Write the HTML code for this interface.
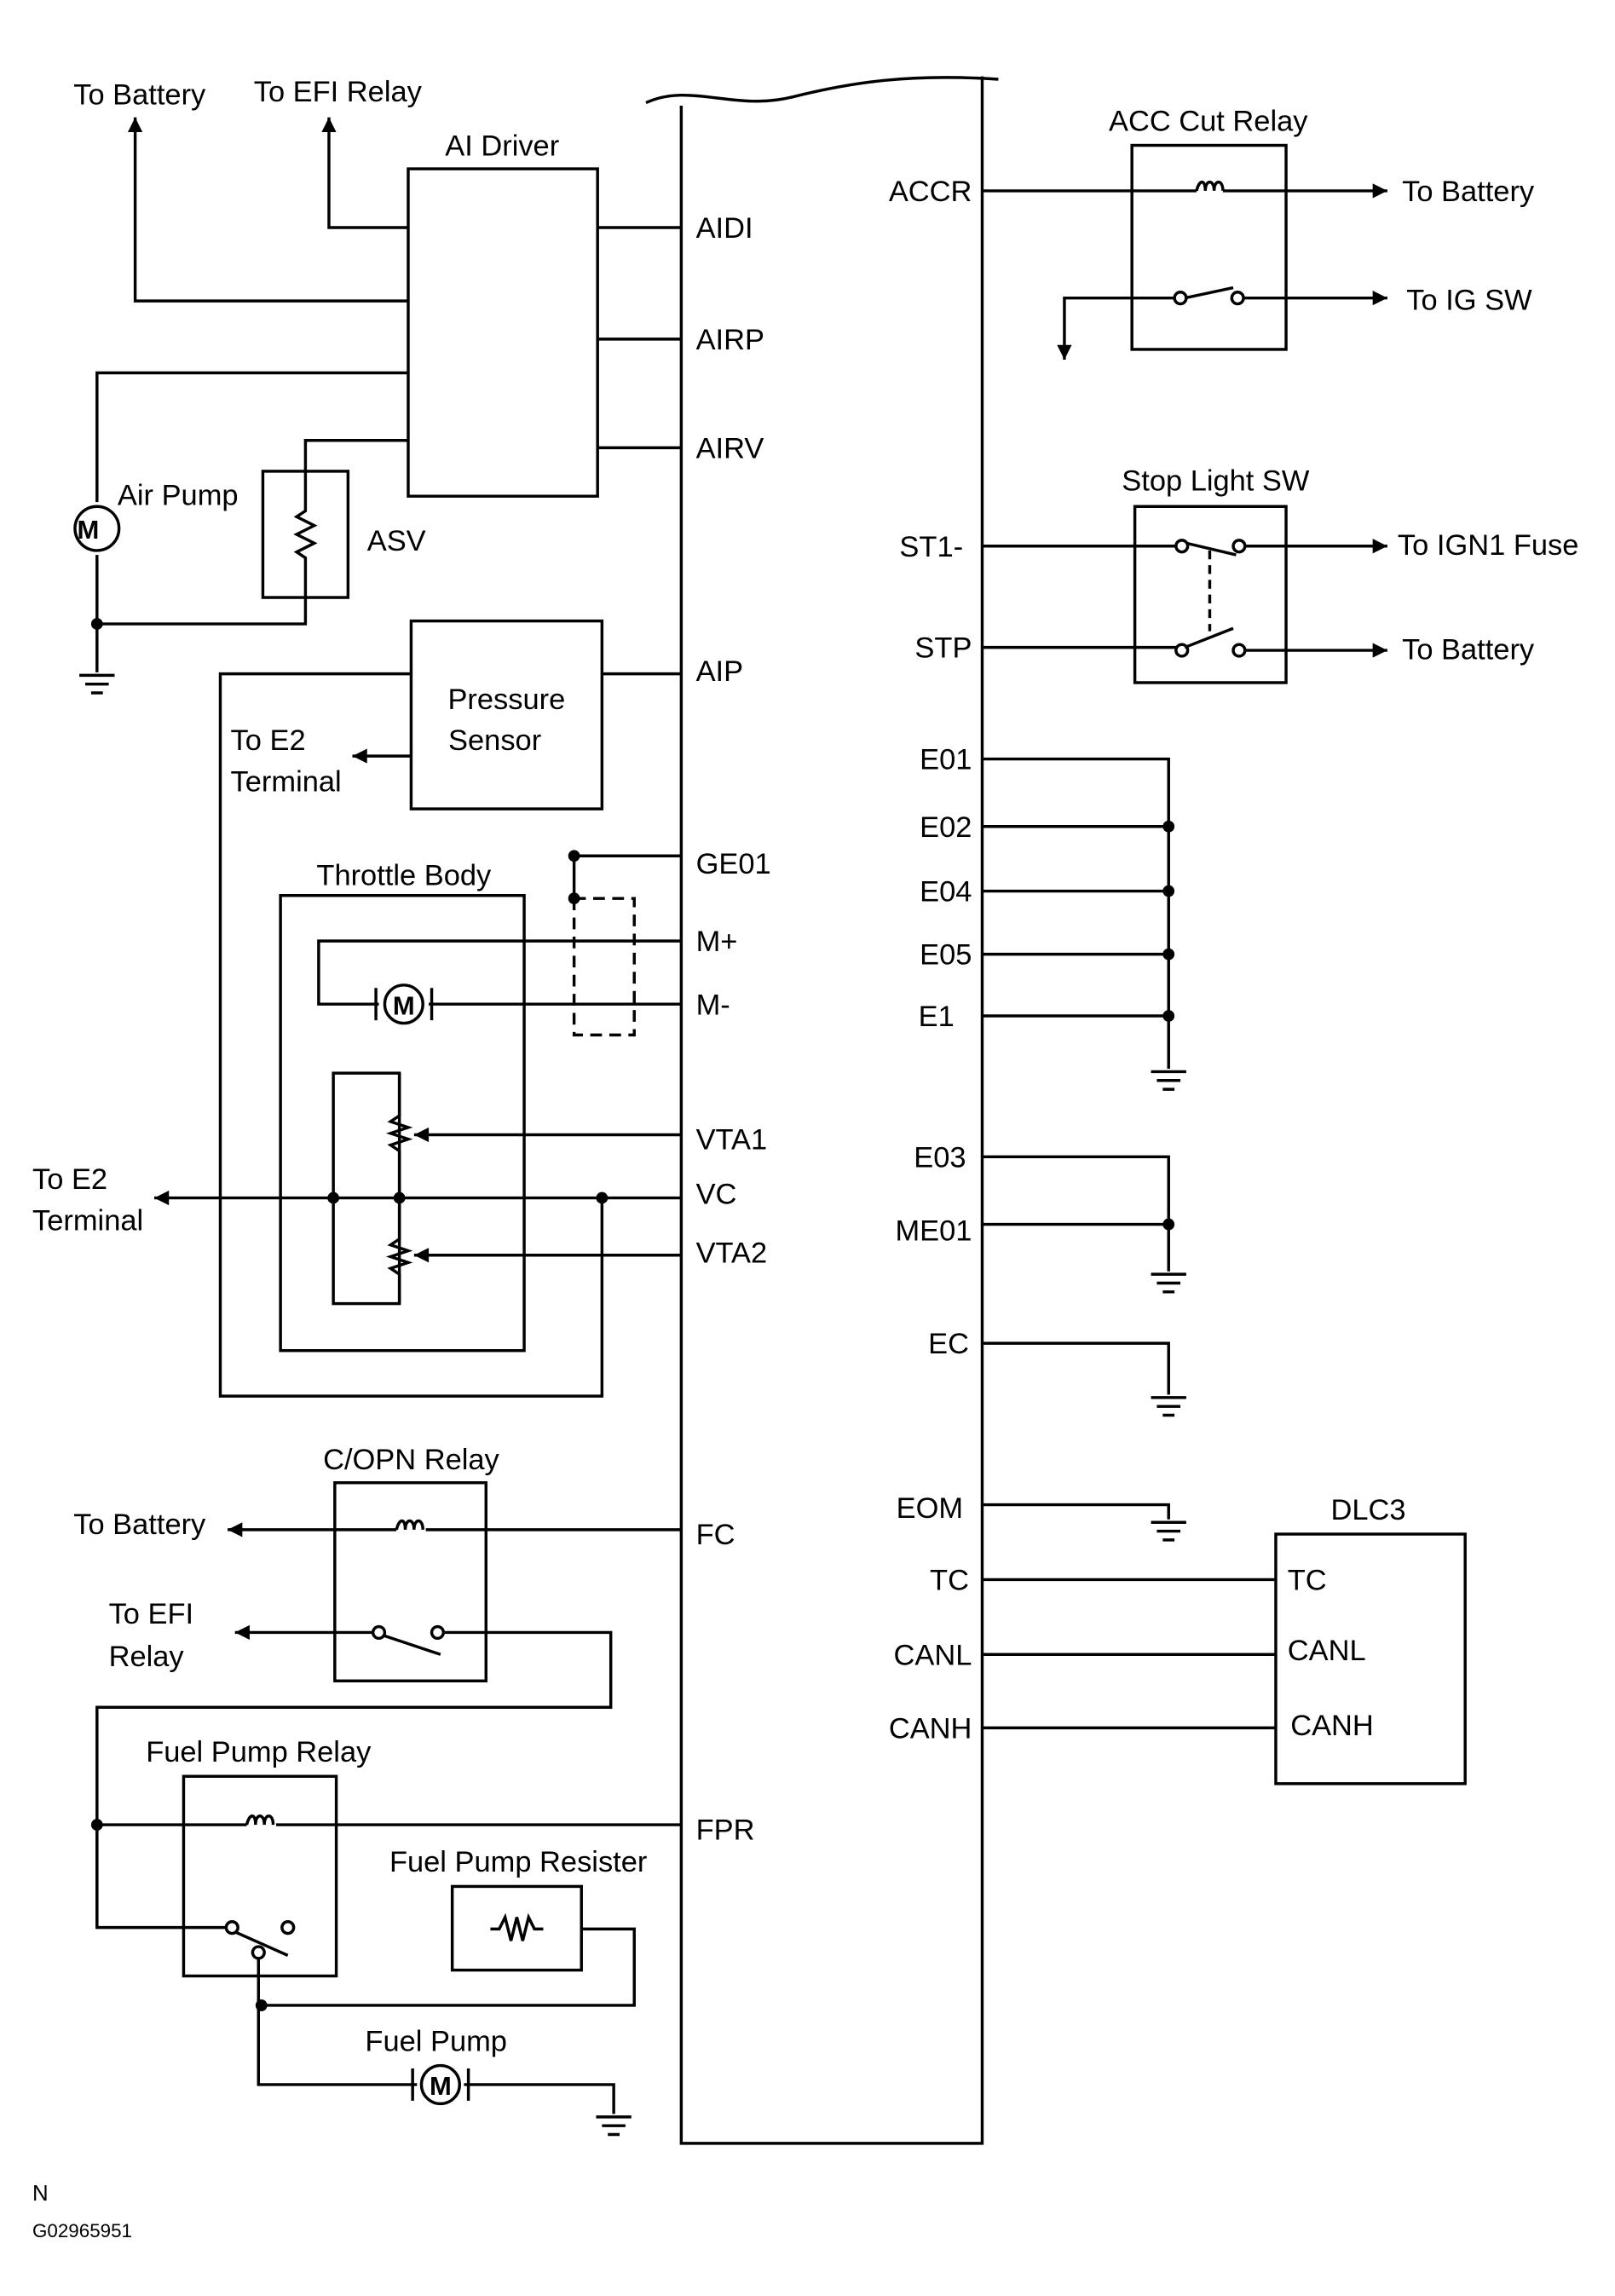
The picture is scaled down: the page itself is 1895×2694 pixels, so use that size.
<!DOCTYPE html>
<html><head><meta charset="utf-8"><style>html,body{margin:0;padding:0;background:#fff}svg{display:block}</style></head><body>
<svg width="1895" height="2694" viewBox="0 0 1100 1564" xmlns="http://www.w3.org/2000/svg" font-family="Liberation Sans, sans-serif" font-size="20">
<defs><marker id="a" viewBox="0 0 10 10" refX="10" refY="5" markerWidth="7" markerHeight="5" orient="auto" markerUnits="userSpaceOnUse"><path d="M0,0L10,5L0,10z"/></marker>
<marker id="b" viewBox="0 0 10 10" refX="10" refY="5" markerWidth="24" markerHeight="10" orient="auto" markerUnits="userSpaceOnUse"><path d="M0,0L10,5L0,10z"/></marker></defs>
<g fill="none" stroke="#000" stroke-width="2">
<!-- ECU -->
<path d="M464,72V1460H669V52"/><path d="M440,70C470,56 500,76 540,66S620,50 680,54"/>
<!-- AI driver -->
<rect x="278" y="115" width="129" height="223"/>
<path d="M407,155H464M407,231H464M407,305H464"/>
<path d="M278,205H92V80" marker-end="url(#b)"/>
<path d="M278,155H224V80" marker-end="url(#b)"/>
<path d="M278,254H66V342M66,378V425M66,425H208V407M208,321V300H278"/>
<path d="M66,425V458M54,460H78M58,466H74M62,472H70"/>
<circle cx="66" cy="360" r="15"/>
<rect x="179" y="321" width="58" height="86"/>
<path d="M208,321V348L202,352L214,358L202,364L214,370L202,376L208,380V407"/>
<!-- pressure sensor -->
<rect x="280" y="423" width="130" height="128"/>
<path d="M410,459H464M280,459H150V951H410V816"/>
<path d="M280,515H240" marker-end="url(#b)"/>
<!-- throttle -->
<rect x="191" y="610" width="166" height="310"/>
<path d="M464,641H217V684H258M292,684H464"/>
<circle cx="275" cy="684" r="13"/><path d="M256,673V695M294,673V695"/>
<rect x="391" y="612" width="41" height="93" stroke-dasharray="8,5"/>
<path d="M464,583H391V612"/>
<rect x="227" y="731" width="45" height="157"/>
<path d="M272,731V760L266,764L278,768L266,772L278,776L266,780L272,784V844L266,848L278,852L266,856L278,860L266,864L272,868V888"/>
<path d="M464,773H282" marker-end="url(#b)"/>
<path d="M464,855H282" marker-end="url(#b)"/>
<path d="M464,816H105" marker-end="url(#b)"/>
<!-- C/OPN -->
<rect x="228" y="1010" width="103" height="135"/>
<path d="M464,1042H290M270,1042H155" marker-end="url(#b)"/>
<path d="M270,1042c2,-8 6,-8 6,0c0,-8 6,-8 6,0c0,-8 6,-8 6,0"/>
<path d="M254,1112H160" marker-end="url(#b)"/>
<circle cx="258" cy="1112" r="4"/><circle cx="298" cy="1112" r="4"/><path d="M261,1114L300,1127M302,1112H416V1163H66V1313H154"/>
<!-- fuel pump relay -->
<rect x="125" y="1210" width="104" height="136"/>
<path d="M464,1243H188M168,1243H66V1313"/>
<path d="M168,1243c2,-8 6,-8 6,0c0,-8 6,-8 6,0c0,-8 6,-8 6,0"/>
<circle cx="158" cy="1313" r="4"/><circle cx="196" cy="1313" r="4"/><circle cx="176" cy="1330" r="4"/>
<path d="M160,1316L196,1332"/>
<rect x="308" y="1285" width="88" height="57"/>
<path d="M334,1314H340L344,1306L348,1322L352,1306L356,1322L360,1306L364,1314H370"/>
<path d="M396,1314H432V1366H178M176,1334V1420H284M316,1420H418V1440M406,1442H430M410,1448H426M414,1454H422"/>
<circle cx="300" cy="1420" r="13"/><path d="M281,1409V1431M319,1409V1431"/>
<!-- right side -->
<rect x="771" y="99" width="105" height="139"/>
<path d="M669,130H815M833,130H945" marker-end="url(#b)"/>
<path d="M815,130c2,-8 6,-8 6,0c0,-8 6,-8 6,0c0,-8 6,-8 6,0"/>
<circle cx="804" cy="203" r="4"/><circle cx="843" cy="203" r="4"/><path d="M807,203L840,196M847,203H945" marker-end="url(#b)"/>
<path d="M800,203H725V245" marker-end="url(#b)"/>
<rect x="773" y="345" width="103" height="120"/>
<path d="M669,372H801M848,372H945" marker-end="url(#b)"/><circle cx="805" cy="372" r="4"/><circle cx="844" cy="372" r="4"/><path d="M808,370L842,378"/>
<path d="M669,441H801M848,443H945" marker-end="url(#b)"/><circle cx="805" cy="443" r="4"/><circle cx="844" cy="443" r="4"/><path d="M807,441L840,428"/>
<path d="M824,375V430" stroke-dasharray="6,4"/>
<path d="M669,517H796V728M669,563H796M669,607H796M669,650H796M669,692H796M784,730H808M788,736H804M792,742H800"/>
<path d="M669,788H796V866M669,834H796M784,868H808M788,874H804M792,880H800"/>
<path d="M669,915H796V950M784,952H808M788,958H804M792,964H800"/>
<path d="M669,1025H796V1035M784,1037H808M788,1043H804M792,1049H800"/>
<rect x="869" y="1045" width="129" height="170"/>
<path d="M669,1076H869M669,1127H869M669,1177H869"/>
</g>
<g fill="#000">
<circle cx="66" cy="425" r="4"/><circle cx="391" cy="583" r="4"/><circle cx="391" cy="612" r="4"/>
<circle cx="227" cy="816" r="4"/><circle cx="272" cy="816" r="4"/><circle cx="410" cy="816" r="4"/>
<circle cx="66" cy="1243" r="4"/><circle cx="178" cy="1366" r="4"/>
<circle cx="796" cy="563" r="4"/><circle cx="796" cy="607" r="4"/><circle cx="796" cy="650" r="4"/><circle cx="796" cy="692" r="4"/><circle cx="796" cy="834" r="4"/>
<text x="60" y="367" font-size="18" font-weight="bold" text-anchor="middle">M</text>
<text x="275" y="691" font-size="18" font-weight="bold" text-anchor="middle">M</text>
<text x="300" y="1427" font-size="18" font-weight="bold" text-anchor="middle">M</text>
<g text-anchor="middle">
<text x="95" y="71">To Battery</text><text x="230" y="69">To EFI Relay</text><text x="342" y="106">AI Driver</text>
<text x="345" y="483">Pressure</text><text x="337" y="511">Sensor</text><text x="275" y="603">Throttle Body</text>
<text x="280" y="1001">C/OPN Relay</text><text x="176" y="1200">Fuel Pump Relay</text><text x="353" y="1275">Fuel Pump Resister</text><text x="297" y="1397">Fuel Pump</text>
<text x="823" y="89">ACC Cut Relay</text><text x="828" y="334">Stop Light SW</text><text x="932" y="1035">DLC3</text>
</g>
<text x="80" y="344">Air Pump</text><text x="250" y="375">ASV</text>
<text x="157" y="511">To E2</text><text x="157" y="539">Terminal</text>
<text x="22" y="810">To E2</text><text x="22" y="838">Terminal</text>
<text x="50" y="1045">To Battery</text><text x="74" y="1106">To EFI</text><text x="74" y="1135">Relay</text>
<g><text x="474" y="162">AIDI</text><text x="474" y="238">AIRP</text><text x="474" y="312">AIRV</text><text x="474" y="464">AIP</text><text x="474" y="595">GE01</text><text x="474" y="648">M+</text><text x="474" y="691">M-</text><text x="474" y="783">VTA1</text><text x="474" y="820">VC</text><text x="474" y="860">VTA2</text><text x="474" y="1052">FC</text><text x="474" y="1253">FPR</text></g>
<g text-anchor="end"><text x="662" y="137">ACCR</text><text x="656" y="379">ST1-</text><text x="662" y="448">STP</text><text x="662" y="524">E01</text><text x="662" y="570">E02</text><text x="662" y="614">E04</text><text x="662" y="657">E05</text><text x="650" y="699">E1</text><text x="658" y="795">E03</text><text x="662" y="845">ME01</text><text x="660" y="922">EC</text><text x="656" y="1034">EOM</text><text x="660" y="1083">TC</text><text x="662" y="1134">CANL</text><text x="662" y="1184">CANH</text></g>
<text x="955" y="137">To Battery</text><text x="958" y="211">To IG SW</text><text x="952" y="378">To IGN1 Fuse</text><text x="955" y="449">To Battery</text>
<text x="877" y="1083">TC</text><text x="877" y="1131">CANL</text><text x="879" y="1182">CANH</text>
<text x="22" y="1499" font-size="15">N</text><text x="22" y="1524" font-size="13">G02965951</text>
</g>
</svg>
</body></html>
